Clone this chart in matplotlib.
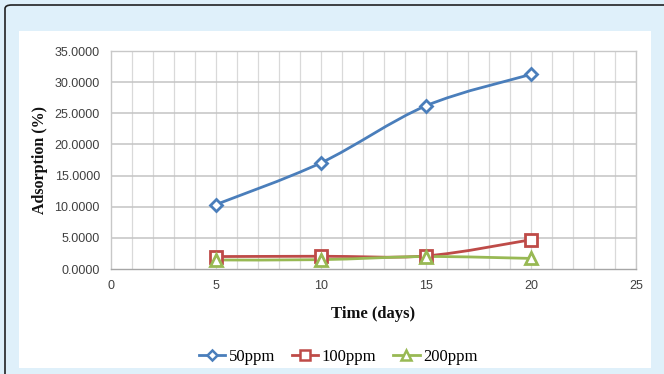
import matplotlib
matplotlib.use("Agg")
import matplotlib.pyplot as plt
from matplotlib.path import Path
from matplotlib.patches import PathPatch, FancyBboxPatch, Rectangle
from matplotlib.lines import Line2D

days = [5, 10, 15, 20]
ads_50 = [10.35, 17.05, 26.2, 31.25]
ads_100 = [2.0, 2.05, 2.1, 4.7]
ads_200 = [1.45, 1.5, 2.0, 1.7]
series_names = ["50ppm", "100ppm", "200ppm"]
colors = ["#4A7EBB", "#BE4B48", "#98B954"]
markers = ["D", "s", "^"]
msizes = [6, 8, 8]

x_ticks = [0, 5, 10, 15, 20, 25]
y_ticks = [0, 5, 10, 15, 20, 25, 30, 35]

fig = plt.figure(figsize=(6.64, 3.74), dpi=100)
fig.patch.set_facecolor("#DFF0FA")

# outer frame and white chart panel
fig.patches.append(FancyBboxPatch((5 / 664, -0.05), 1.1, 1 - 5 / 374 + 0.05,
                                  boxstyle="round,pad=0,rounding_size=0.01",
                                  transform=fig.transFigure, facecolor="none",
                                  edgecolor="#222222", linewidth=1.2, zorder=-2))
fig.patches.append(Rectangle((19 / 664, 1 - 368 / 374), (651 - 19) / 664, (368 - 31) / 374,
                             transform=fig.transFigure, facecolor="white",
                             edgecolor="none", zorder=-2))

ax = fig.add_axes([111 / 664, 1 - 269 / 374, (636 - 111) / 664, (269 - 51) / 374])
ax.set_zorder(2)
ax.set_facecolor("white")
ax.set_xlim(0, 25)
ax.set_ylim(0, 35)

# grid: vertical lines every day, horizontal every 5 %
for xv in range(1, 26):
    ax.axvline(xv, color="#D9D9D9", linewidth=0.9, zorder=1)
for yv in y_ticks[1:]:
    ax.axhline(yv, color="#C4C4C4", linewidth=1.1, zorder=1)
for s in ax.spines.values():
    s.set_color("#C8C8C8")
    s.set_linewidth(1.0)
ax.spines["bottom"].set_color("#A6A6A6")

ax.set_xticks(x_ticks)
ax.set_yticks(y_ticks)
ax.set_yticklabels([f"{v:.4f}" for v in y_ticks])
ax.tick_params(length=0, labelsize=9, colors="#404040", pad=8)
for lab in ax.get_xticklabels() + ax.get_yticklabels():
    lab.set_fontfamily("Liberation Sans")


def smooth_path(xs, ys):
    pts = list(zip(xs, ys))
    verts = [pts[0]]
    codes = [Path.MOVETO]
    n = len(pts)
    for i in range(n - 1):
        p0 = pts[i - 1] if i > 0 else pts[i]
        p1 = pts[i]
        p2 = pts[i + 1]
        p3 = pts[i + 2] if i + 2 < n else pts[i + 1]
        c1 = (p1[0] + (p2[0] - p0[0]) / 6, p1[1] + (p2[1] - p0[1]) / 6)
        c2 = (p2[0] - (p3[0] - p1[0]) / 6, p2[1] - (p3[1] - p1[1]) / 6)
        verts += [c1, c2, p2]
        codes += [Path.CURVE4] * 3
    return Path(verts, codes)


handles = []
for ys, name, c, m, ms in zip([ads_50, ads_100, ads_200], series_names, colors, markers, msizes):
    ax.add_patch(PathPatch(smooth_path(days, ys), facecolor="none", edgecolor=c,
                           linewidth=2.0, zorder=3, capstyle="round"))
    ax.plot(days, ys, linestyle="none", marker=m, markersize=ms, markerfacecolor="white",
            markeredgecolor=c, markeredgewidth=2.0, zorder=4, clip_on=False)
    handles.append(Line2D([], [], color=c, linewidth=2.0, marker=m, markersize=ms - 1,
                          markerfacecolor="white", markeredgecolor=c, markeredgewidth=1.8))

ax.set_xlabel("Time (days)", fontsize=12, fontweight="bold", family="Liberation Serif",
              color="#111111", labelpad=10)
ax.set_ylabel("Adsorption (%)", fontsize=11.5, fontweight="bold", family="Liberation Serif",
              color="#111111", labelpad=5)

fig.legend(handles, series_names, loc="center", bbox_to_anchor=(338 / 664, 1 - 357 / 374),
           ncol=3, frameon=False, prop={"family": "Liberation Serif", "size": 12},
           handlelength=1.6, handletextpad=0.2, columnspacing=1.0)

fig.savefig("out.png", dpi=100, facecolor=fig.get_facecolor())
